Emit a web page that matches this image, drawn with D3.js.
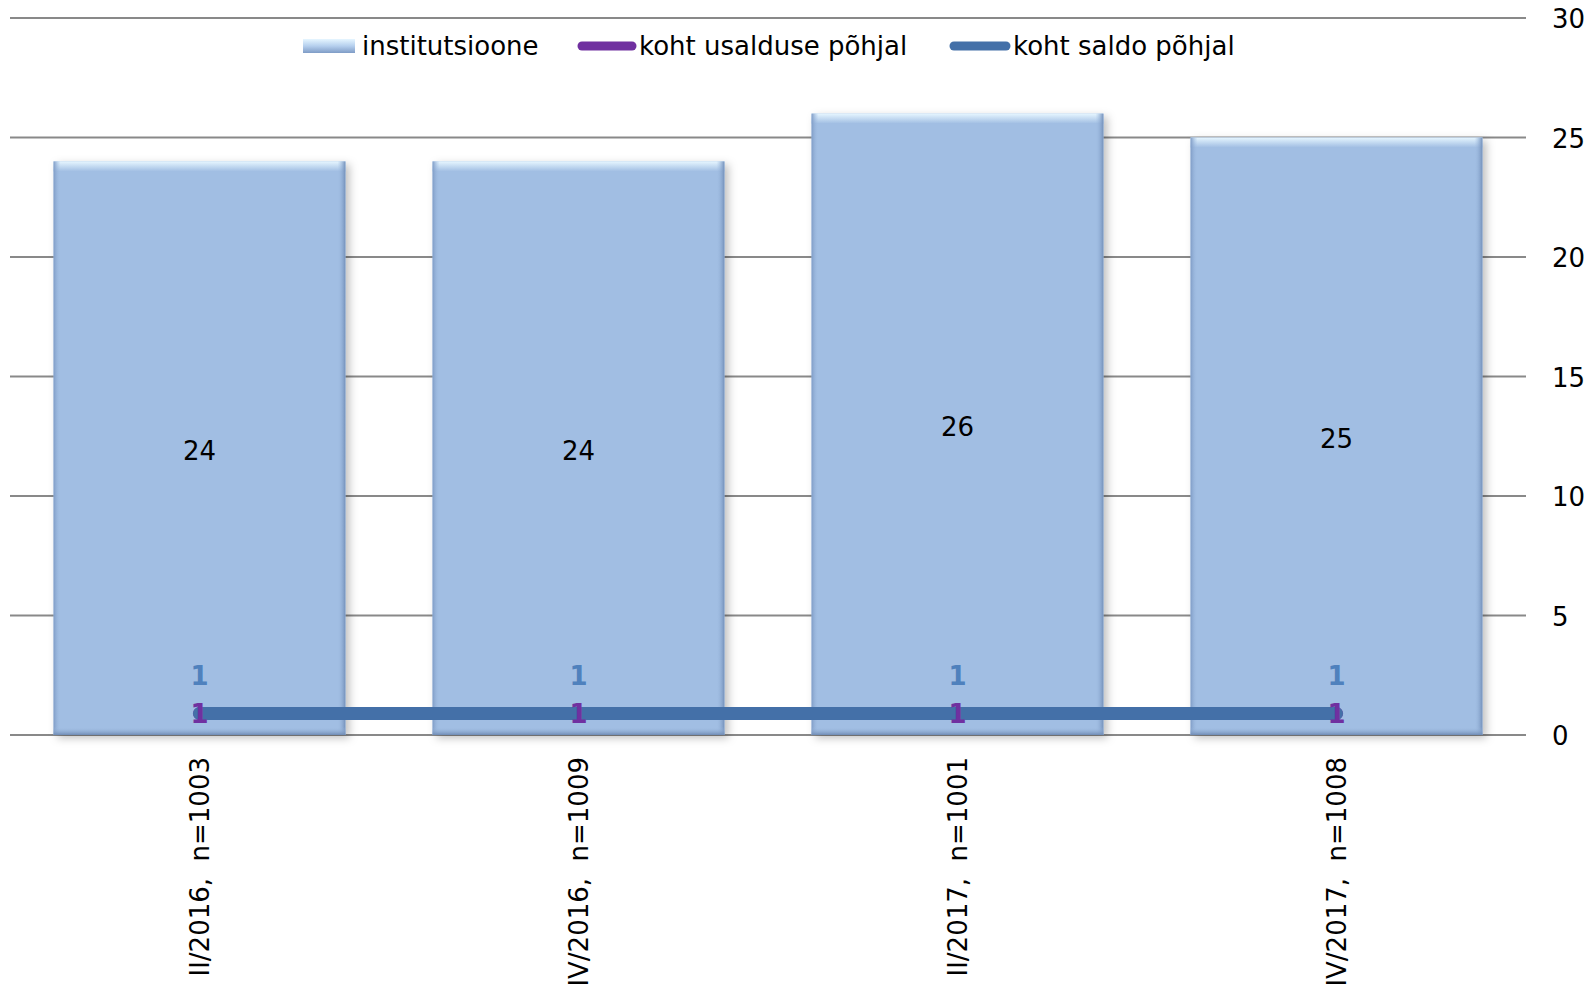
<!DOCTYPE html>
<html><head><meta charset="utf-8">
<script src="https://cdn.jsdelivr.net/npm/d3@7"></script>
<style>
body{margin:0;background:#fff;}
svg text{font-family:Verdana,"DejaVu Sans",sans-serif;white-space:pre;}
</style></head>
<body><svg id="c" width="1587" height="991"></svg>
<script>
const categories = ["II/2016,  n=1003","IV/2016,  n=1009","II/2017,  n=1001","IV/2017,  n=1008"];
const institutsioone = [24,24,26,25];
const kohtUsalduse = [0.9,0.9,0.9,0.9];
const kohtSaldo = [0.9,0.9,0.9,0.9];
const yTicks = [0,5,10,15,20,25,30];
const legendLabels = ["institutsioone","koht usalduse põhjal","koht saldo põhjal"];

const svg = d3.select("#c");
const L = 10, R = 1526, T = 18, B = 735;
const x = d3.scaleBand().domain(categories).range([L,R]).paddingInner(0.23).paddingOuter(0.115);
const y = d3.scaleLinear().domain([0,30]).range([B,T]);
const fs = 26;

const defs = svg.append("defs");
const gTop = defs.append("linearGradient").attr("id","gTop").attr("x1",0).attr("y1",0).attr("x2",0).attr("y2",1);
gTop.append("stop").attr("offset",0).attr("stop-color","#e6f6ff");
gTop.append("stop").attr("offset",1).attr("stop-color","#a1bee3");
const gL = defs.append("linearGradient").attr("id","gL").attr("x1",0).attr("y1",0).attr("x2",1).attr("y2",0);
gL.append("stop").attr("offset",0).attr("stop-color","#7f9cc6");
gL.append("stop").attr("offset",1).attr("stop-color","#a1bee3").attr("stop-opacity",0);
const gR = defs.append("linearGradient").attr("id","gR").attr("x1",1).attr("y1",0).attr("x2",0).attr("y2",0);
gR.append("stop").attr("offset",0).attr("stop-color","#7390ba");
gR.append("stop").attr("offset",1).attr("stop-color","#a1bee3").attr("stop-opacity",0);
const gB = defs.append("linearGradient").attr("id","gB").attr("x1",0).attr("y1",1).attr("x2",0).attr("y2",0);
gB.append("stop").attr("offset",0).attr("stop-color","#6f8bb4");
gB.append("stop").attr("offset",1).attr("stop-color","#a1bee3").attr("stop-opacity",0);
const sh = defs.append("filter").attr("id","sh").attr("x","-10%").attr("y","-10%").attr("width","125%").attr("height","125%");
sh.append("feDropShadow").attr("dx",4).attr("dy",3).attr("stdDeviation",4).attr("flood-color","#000").attr("flood-opacity",0.25);

// gridlines
svg.append("g").selectAll("line").data(yTicks).join("line")
  .attr("x1",L).attr("x2",R).attr("y1",d=>y(d)).attr("y2",d=>y(d))
  .attr("stroke","#898989").attr("stroke-width",2);

// right axis labels
const ya = svg.append("g").attr("transform",`translate(${R},0)`)
  .call(d3.axisRight(y).tickValues(yTicks).tickSize(0).tickPadding(26).tickFormat(d3.format("d")));
ya.select(".domain").remove();
ya.selectAll("text").attr("font-size",fs).attr("fill","#000").attr("font-family","Verdana, 'DejaVu Sans', sans-serif").attr("dy","0.38em");

// bars
const bw = x.bandwidth();
const bars = svg.append("g").selectAll("g").data(categories).join("g");
bars.append("rect").attr("x",d=>x(d)).attr("y",(d,i)=>y(institutsioone[i]))
  .attr("width",bw).attr("height",(d,i)=>B-y(institutsioone[i]))
  .attr("fill","#a1bee3").attr("filter","url(#sh)");
bars.append("rect").attr("x",d=>x(d)).attr("y",(d,i)=>y(institutsioone[i]))
  .attr("width",bw).attr("height",10).attr("fill","url(#gTop)");
bars.append("rect").attr("x",d=>x(d)).attr("y",(d,i)=>y(institutsioone[i]))
  .attr("width",7).attr("height",(d,i)=>B-y(institutsioone[i])).attr("fill","url(#gL)");
bars.append("rect").attr("x",d=>x(d)+bw-8).attr("y",(d,i)=>y(institutsioone[i]))
  .attr("width",8).attr("height",(d,i)=>B-y(institutsioone[i])).attr("fill","url(#gR)");
bars.append("rect").attr("x",d=>x(d)).attr("y",B-8)
  .attr("width",bw).attr("height",8).attr("fill","url(#gB)");
bars.append("text").attr("x",d=>x(d)+bw/2).attr("y",(d,i)=>(y(institutsioone[i])+B)/2)
  .attr("dy","0.45em").attr("text-anchor","middle").attr("font-size",fs).attr("fill","#000")
  .text((d,i)=>institutsioone[i]);

// x axis labels
const xa = svg.append("g").attr("transform",`translate(0,${B})`)
  .call(d3.axisBottom(x).tickSize(0));
xa.select(".domain").remove();
xa.selectAll("text").attr("font-size",fs).attr("fill","#000").attr("font-family","Verdana, 'DejaVu Sans', sans-serif")
  .attr("transform","rotate(-90)").attr("text-anchor","end")
  .attr("x",-22).attr("y",0).attr("dy","0.35em").attr("dx",0)
  .attr("xml:space","preserve").style("white-space","pre");

// lines
const cx = d => x(d)+bw/2;
const line = d3.line().x(d=>cx(d.c)).y(d=>y(d.v));
const usData = categories.map((c,i)=>({c,v:kohtUsalduse[i]}));
const saData = categories.map((c,i)=>({c,v:kohtSaldo[i]}));
svg.append("path").datum(usData).attr("d",line).attr("fill","none")
  .attr("stroke","#7030a0").attr("stroke-width",13).attr("stroke-linecap","round");
svg.append("path").datum(saData).attr("d",line).attr("fill","none")
  .attr("stroke","#4470a8").attr("stroke-width",13).attr("stroke-linecap","round");

const f0 = d3.format(".0f");
svg.append("g").selectAll("text").data(saData).join("text")
  .attr("x",d=>cx(d.c)).attr("y",d=>y(d.v)-38).attr("dy","0.35em").attr("text-anchor","middle")
  .attr("font-size",fs).attr("font-weight","bold").attr("fill","#4f81bd").text(d=>f0(d.v));
svg.append("g").selectAll("text").data(usData).join("text")
  .attr("x",d=>cx(d.c)).attr("y",d=>y(d.v)).attr("dy","0.35em").attr("text-anchor","middle")
  .attr("font-size",fs).attr("font-weight","bold").attr("fill","#7030a0").text(d=>f0(d.v));

// legend
const lg = svg.append("g");
const ly = 46;
const sg = defs.append("linearGradient").attr("id","gLeg").attr("x1",0).attr("y1",0).attr("x2",0).attr("y2",1);
sg.append("stop").attr("offset",0).attr("stop-color","#e6f6ff");
sg.append("stop").attr("offset",0.5).attr("stop-color","#b5cfee");
sg.append("stop").attr("offset",1).attr("stop-color","#7f9cc6");
lg.append("rect").attr("x",303).attr("y",ly-7).attr("width",52).attr("height",14).attr("fill","url(#gLeg)");
lg.append("line").attr("x1",582).attr("x2",632).attr("y1",ly).attr("y2",ly)
  .attr("stroke","#7030a0").attr("stroke-width",9).attr("stroke-linecap","round");
lg.append("line").attr("x1",954).attr("x2",1006).attr("y1",ly).attr("y2",ly)
  .attr("stroke","#4470a8").attr("stroke-width",9).attr("stroke-linecap","round");
const lx = [362,639,1013];
lg.selectAll("text").data(legendLabels).join("text")
  .attr("x",(d,i)=>lx[i]).attr("y",ly).attr("dy","0.35em").attr("font-size",fs).attr("fill","#000").text(d=>d);
</script></body></html>
